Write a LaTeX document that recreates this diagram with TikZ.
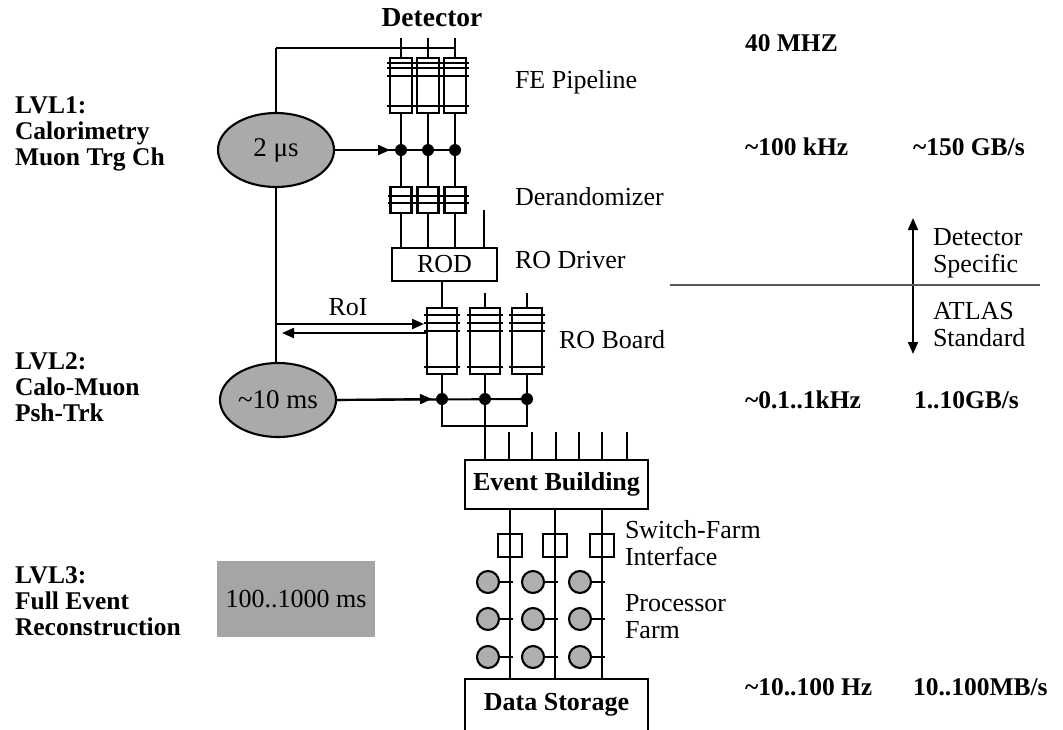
\documentclass[tikz,border=0pt]{standalone}
\usepackage{fontspec}
\setmainfont{Liberation Serif}
\usetikzlibrary{shapes.geometric,arrows.meta,calc}
\definecolor{ellgray}{RGB}{170,170,170}
\definecolor{boxgray}{RGB}{165,165,165}
\definecolor{cpugray}{RGB}{175,175,175}
\definecolor{sepgray}{RGB}{90,90,90}
\begin{document}
\begin{tikzpicture}[x=1pt,y=-1pt,
  line width=2.1pt,
  every node/.style={inner sep=0pt, outer sep=0pt},
  txt/.style={font=\fontsize{26}{27}\selectfont, align=left},
  btxt/.style={font=\fontsize{25.5}{26}\selectfont\bfseries, align=left},
  febox/.style={draw, minimum width=22pt, minimum height=55pt},
  derbox/.style={draw, minimum width=21pt, minimum height=26pt},
  robox/.style={draw, minimum width=30pt, minimum height=66pt},
  jdot/.style={circle, fill=black, minimum size=12pt},
  trig/.style={ellipse, draw, fill=ellgray, font=\fontsize{27}{28}\selectfont, minimum width=116pt, minimum height=74pt},
  swbox/.style={draw, minimum width=24pt, minimum height=23pt},
  cpu/.style={circle, draw, fill=cpugray, minimum size=22pt},
  bigbox/.style={draw, minimum width=183pt, font=\fontsize{26}{27}\selectfont\bfseries},
  stripe/.style={line width=1.8pt},
  arr/.style={-{Triangle[length=12pt,width=10pt]}}
]
\useasboundingbox (0,0) rectangle (1063,729);
\clip (0,0) rectangle (1063,729);

% ---------- left labels ----------
\node[btxt, anchor=west] (lvl1) at (15,134) {LVL1:\\Calorimetry\\Muon Trg Ch};
\node[btxt, anchor=west] (lvl2) at (15,387) {LVL2:\\Calo-Muon\\Psh-Trk};
\node[btxt, anchor=west] (lvl3) at (15,601) {LVL3:\\Full Event\\Reconstruction};

% ---------- trigger latencies ----------
\node[trig] (e1) at (276,150) {2 μs};
\node[trig] (e2) at (278,400) {\textasciitilde10 ms};
\node[fill=boxgray, minimum width=158pt, minimum height=76pt, font=\fontsize{26}{27}\selectfont] (l3) at (296,599) {100..1000 ms};

% ---------- detector ----------
\node[font=\fontsize{27.5}{28}\selectfont\bfseries] (det) at (432,18) {Detector};

% FE pipeline
\node[febox] (p1) at (401,85.5) {};
\node[febox] (p2) at (428,85.5) {};
\node[febox] (p3) at (455,85.5) {};
\foreach \n in {p1,p2,p3}{
  \foreach \dy in {5,10,18}
    \draw[stripe] ($(\n.north west)+(-3,\dy)$) -- ($(\n.north east)+(3,\dy)$);
  \draw[stripe] ($(\n.south west)+(-3,-7)$) -- ($(\n.south east)+(3,-7)$);
}
\coordinate (t1) at (401,38);
\coordinate (t2) at (428,38);
\coordinate (t3) at (455,38);
\draw (t1) -- (p1.north);
\draw (t2) -- (p2.north);
\draw (t3) -- (p3.north);
\coordinate (hl) at (276,48);
\draw (hl) -- (hl -| p3.north);
\draw (hl) -- (e1.north);

% L1 decision dots
\node[jdot] (d1) at (401,150) {};
\node[jdot] (d2) at (428,150) {};
\node[jdot] (d3) at (455,150) {};
\draw (e1.east) -- (d3.center);
\draw[arr] (e1.east) -- ($(d1.west)+(-5,0)$);

% Derandomizer
\node[derbox] (q1) at (401,200) {};
\node[derbox] (q2) at (428,200) {};
\node[derbox] (q3) at (455,200) {};
\foreach \n in {q1,q2,q3}{
  \foreach \dy in {9,16}
    \draw[stripe] ($(\n.north west)+(-3,\dy)$) -- ($(\n.north east)+(3,\dy)$);
}
\draw (p1.south) -- (d1.center) -- (q1.north);
\draw (p2.south) -- (d2.center) -- (q2.north);
\draw (p3.south) -- (d3.center) -- (q3.north);

% ROD
\node[draw, minimum width=105pt, minimum height=33pt, font=\fontsize{26}{27}\selectfont] (rod) at (444.5,264.5) {ROD};
\draw (q1.south) -- (q1.south |- rod.north);
\draw (q2.south) -- (q2.south |- rod.north);
\draw (q3.south) -- (q3.south |- rod.north);
\coordinate (x1) at (484,210);
\draw (x1) -- (x1 |- rod.north);

% RO boards
\node[robox] (r1) at (442,341) {};
\node[robox] (r2) at (485,341) {};
\node[robox] (r3) at (527,341) {};
\foreach \n in {r1,r2,r3}{
  \foreach \dy in {7,15,23}
    \draw[stripe] ($(\n.north west)+(-3,\dy)$) -- ($(\n.north east)+(3,\dy)$);
  \draw[stripe] ($(\n.south west)+(-3,-7)$) -- ($(\n.south east)+(3,-7)$);
}
\draw (r1.north |- rod.south) -- (r1.north);
\coordinate (x2) at (485,293);
\coordinate (x3) at (527,293);
\draw (x2) -- (r2.north);
\draw (x3) -- (r3.north);

% vertical L1 -> L2 line and RoI
\draw (e1.south) -- (e1.south |- e2.north);
\coordinate (roi1) at (276,324);
\coordinate (roi2) at (282,333);
\draw[arr, shorten >=3pt] (roi1) -- (roi1 -| r1.west);
\draw[arr] (roi2 -| r1.west) -- (roi2);
\node[txt] (roil) at (348,307) {RoI};

% L2 decision dots
\node[jdot] (f1) at (442,399) {};
\node[jdot] (f2) at (485,399) {};
\node[jdot] (f3) at (527,399) {};
\draw (e2.east) -- (f3.center);
\draw[arr] (e2.east) -- ($(f1.west)+(-4,0)$);
\coordinate (g1) at (442,426);
\coordinate (g3) at (527,426);
\draw (r1.south) -- (g1) -- (g3) -- (r3.south);

% Event building
\node[bigbox, minimum height=49pt] (eb) at (556.5,484.5) {Event Building};
\draw (r2.south) -- (r2.south |- eb.north);
\foreach \x in {509,532,556,579,602,627}
  \draw (\x,432) -- (\x,432 |- eb.north);

% Data storage
\node[bigbox, minimum height=52pt] (ds) at (556.5,705) {Data Storage};

% Switch-farm interfaces and processors
\foreach \x/\i in {510/1,555/2,602/3}{
  \node[swbox] (s\i) at (\x,545.5) {};
  \draw (s\i |- eb.south) -- (s\i |- ds.north);
  \foreach \y/\j in {582/1,619/2,657/3}{
    \node[cpu] (c\i\j) at (\x-22,\y) {};
    \draw (c\i\j.east) -- ($(c\i\j.east)+(14,0)$);
  }
}

% ---------- right-hand labels ----------
\node[txt, anchor=west] (lfe) at (515,82) {FE Pipeline};
\node[txt, anchor=west] (lder) at (515,197) {Derandomizer};
\node[txt, anchor=west] (lrod) at (515,260) {RO Driver};
\node[txt, anchor=west] (lrob) at (559,340) {RO Board};
\node[txt, anchor=west] (lsw) at (625,543.5) {Switch-Farm\\Interface};
\node[txt, anchor=west] (lpf) at (625,616.5) {Processor\\Farm};

\node[btxt, anchor=west] (r40) at (745,43) {40 MHZ};
\node[btxt, anchor=west] (r100) at (745,147) {\textasciitilde100 kHz};
\node[btxt, anchor=west] (b150) at (913,147) {\textasciitilde150 GB/s};
\node[btxt, anchor=west] (r01) at (745,400) {\textasciitilde0.1..1kHz};
\node[btxt, anchor=west] (b110) at (914,400) {1..10GB/s};
\node[btxt, anchor=west] (r10) at (745,687) {\textasciitilde10..100 Hz};
\node[btxt, anchor=west] (b10) at (913,687) {10..100MB/s};

% detector specific / ATLAS standard
\coordinate (dsA) at (913,285);
\coordinate (dsT) at (913,218);
\coordinate (dsB) at (913,354);
\draw[arr, line width=1.8pt] (dsA) -- (dsT);
\draw[arr, line width=1.8pt] (dsA) -- (dsB);
\coordinate (sepL) at (670,285);
\coordinate (sepR) at (1040,285);
\draw[sepgray, line width=1.3pt] (sepL) -- (sepR);
\node[txt, anchor=west] (lspec) at (933,253.5) {Detector\\Specific};
\node[txt, anchor=west] (lstd) at (933,324.5) {ATLAS\\Standard};
\end{tikzpicture}
\end{document}
